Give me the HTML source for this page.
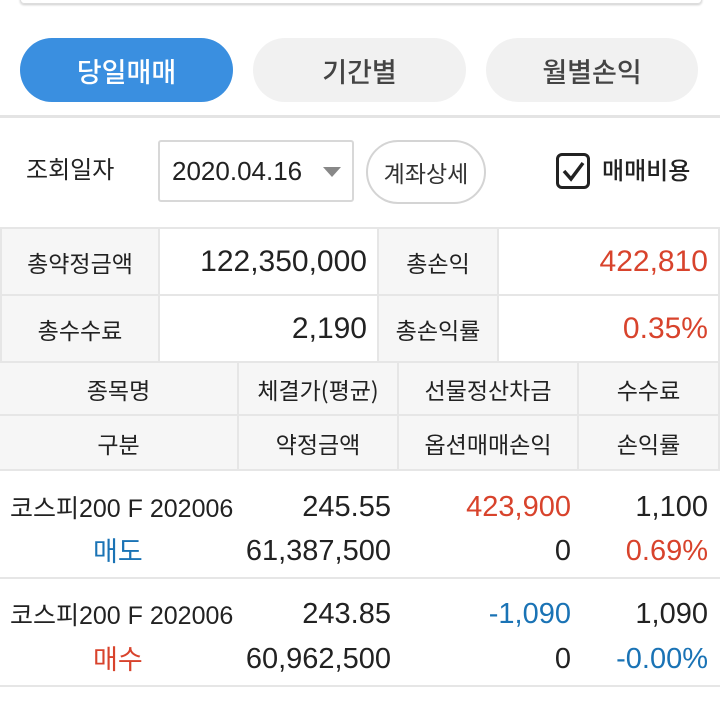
<!DOCTYPE html>
<html><head><meta charset="utf-8"><style>
body{margin:0;width:720px;height:701px;background:#fff;position:relative;overflow:hidden;font-family:"Liberation Sans","Noto Sans CJK KR",sans-serif;color:#222}
.a{position:absolute}
.k{font-family:"Noto Sans CJK KR",sans-serif}
.tab{position:absolute;top:38px;height:64px;border-radius:32px;background:#f1f1f1;color:#444;font-size:27px;font-weight:500;display:flex;align-items:center;justify-content:center;font-family:"Noto Sans CJK KR",sans-serif}
.cell{position:absolute;display:flex;align-items:center;box-sizing:border-box;border-right:2px solid #e6e6e6;border-bottom:2px solid #e6e6e6}
.lab{justify-content:center;background:#f6f6f6;font-size:23px;font-family:"Noto Sans CJK KR",sans-serif;color:#222}
.num{justify-content:flex-end;padding-right:10px;font-size:30px;background:#fff}
.hd{justify-content:center;background:#f6f6f6;font-size:23px;font-family:"Noto Sans CJK KR",sans-serif}
.r{color:#d8432c}.b{color:#1a73b5}
.t{position:absolute;font-size:29px;line-height:34px;white-space:nowrap}
.rt{text-align:right}
</style></head><body>
<div class="a" style="left:20px;top:-10px;width:680px;height:12px;border:1px solid #ddd;border-radius:4px;box-shadow:0 1px 2px #ccc"></div>
<div class="tab" style="left:20px;width:213px;background:#3a8fe0;color:#fff">당일매매</div>
<div class="tab" style="left:253px;width:213px">기간별</div>
<div class="tab" style="left:486px;width:212px">월별손익</div>
<div class="a" style="left:0;top:115px;width:720px;height:3px;background:#e4e4e4"></div>
<div class="a k" style="left:26px;top:151px;font-size:24px;line-height:34px">조회일자</div>
<div class="a" style="left:158px;top:140px;width:196px;height:62px;border:2px solid #d8d8d8;border-radius:3px;box-sizing:border-box"></div>
<div class="a" style="left:172px;top:154px;font-size:26px;line-height:34px">2020.04.16</div>
<div class="a" style="left:323px;top:167px;width:0;height:0;border-left:9px solid transparent;border-right:9px solid transparent;border-top:10px solid #888"></div>
<div class="a k" style="left:366px;top:140px;width:120px;height:64px;border:2px solid #d4d4d4;border-radius:32px;box-sizing:border-box;display:flex;align-items:center;justify-content:center;font-size:23px;color:#333">계좌상세</div>
<div class="a" style="left:556px;top:153px;width:34px;height:36px;border:3px solid #222;border-radius:6px;box-sizing:border-box"></div>
<svg class="a" style="left:556px;top:153px" width="34" height="36"><path d="M8 18 L15 26 L27 10" stroke="#222" stroke-width="3.5" fill="none"/></svg>
<div class="a k" style="left:602px;top:152px;font-size:24px;line-height:34px;font-weight:500">매매비용</div>

<div class="a" style="left:0;top:227px;width:720px;height:2px;background:#e6e6e6"></div>
<div class="cell lab" style="left:0;top:229px;width:160px;height:67px;border-left:2px solid #e6e6e6">총약정금액</div>
<div class="cell num" style="left:160px;top:229px;width:219px;height:67px">122,350,000</div>
<div class="cell lab" style="left:379px;top:229px;width:120px;height:67px">총손익</div>
<div class="cell num r" style="left:499px;top:229px;width:221px;height:67px">422,810</div>
<div class="cell lab" style="left:0;top:296px;width:160px;height:67px;border-left:2px solid #e6e6e6">총수수료</div>
<div class="cell num" style="left:160px;top:296px;width:219px;height:67px">2,190</div>
<div class="cell lab" style="left:379px;top:296px;width:120px;height:67px">총손익률</div>
<div class="cell num r" style="left:499px;top:296px;width:221px;height:67px">0.35%</div>

<div class="cell hd" style="left:0;top:363px;width:239px;height:53px">종목명</div>
<div class="cell hd" style="left:239px;top:363px;width:160px;height:53px">체결가(평균)</div>
<div class="cell hd" style="left:399px;top:363px;width:180px;height:53px">선물정산차금</div>
<div class="cell hd" style="left:579px;top:363px;width:141px;height:53px">수수료</div>
<div class="cell hd" style="left:0;top:416px;width:239px;height:55px">구분</div>
<div class="cell hd" style="left:239px;top:416px;width:160px;height:55px">약정금액</div>
<div class="cell hd" style="left:399px;top:416px;width:180px;height:55px">옵션매매손익</div>
<div class="cell hd" style="left:579px;top:416px;width:141px;height:55px">손익률</div>

<div class="t" style="left:10px;top:492px;font-size:25px">코스피200 F 202006</div>
<div class="t rt" style="right:329px;top:490px">245.55</div>
<div class="t rt r" style="right:149px;top:490px">423,900</div>
<div class="t rt" style="right:12px;top:490px">1,100</div>
<div class="t k b" style="left:93px;top:533px;font-size:27px">매도</div>
<div class="t rt" style="right:329px;top:534px">61,387,500</div>
<div class="t rt" style="right:149px;top:534px">0</div>
<div class="t rt r" style="right:12px;top:534px">0.69%</div>
<div class="a" style="left:0;top:577px;width:720px;height:2px;background:#e6e6e6"></div>

<div class="t" style="left:10px;top:599px;font-size:25px">코스피200 F 202006</div>
<div class="t rt" style="right:329px;top:597px">243.85</div>
<div class="t rt b" style="right:149px;top:597px">-1,090</div>
<div class="t rt" style="right:12px;top:597px">1,090</div>
<div class="t k r" style="left:93px;top:641px;font-size:27px">매수</div>
<div class="t rt" style="right:329px;top:642px">60,962,500</div>
<div class="t rt" style="right:149px;top:642px">0</div>
<div class="t rt b" style="right:12px;top:642px">-0.00%</div>
<div class="a" style="left:0;top:685px;width:720px;height:2px;background:#e6e6e6"></div>
</body></html>
